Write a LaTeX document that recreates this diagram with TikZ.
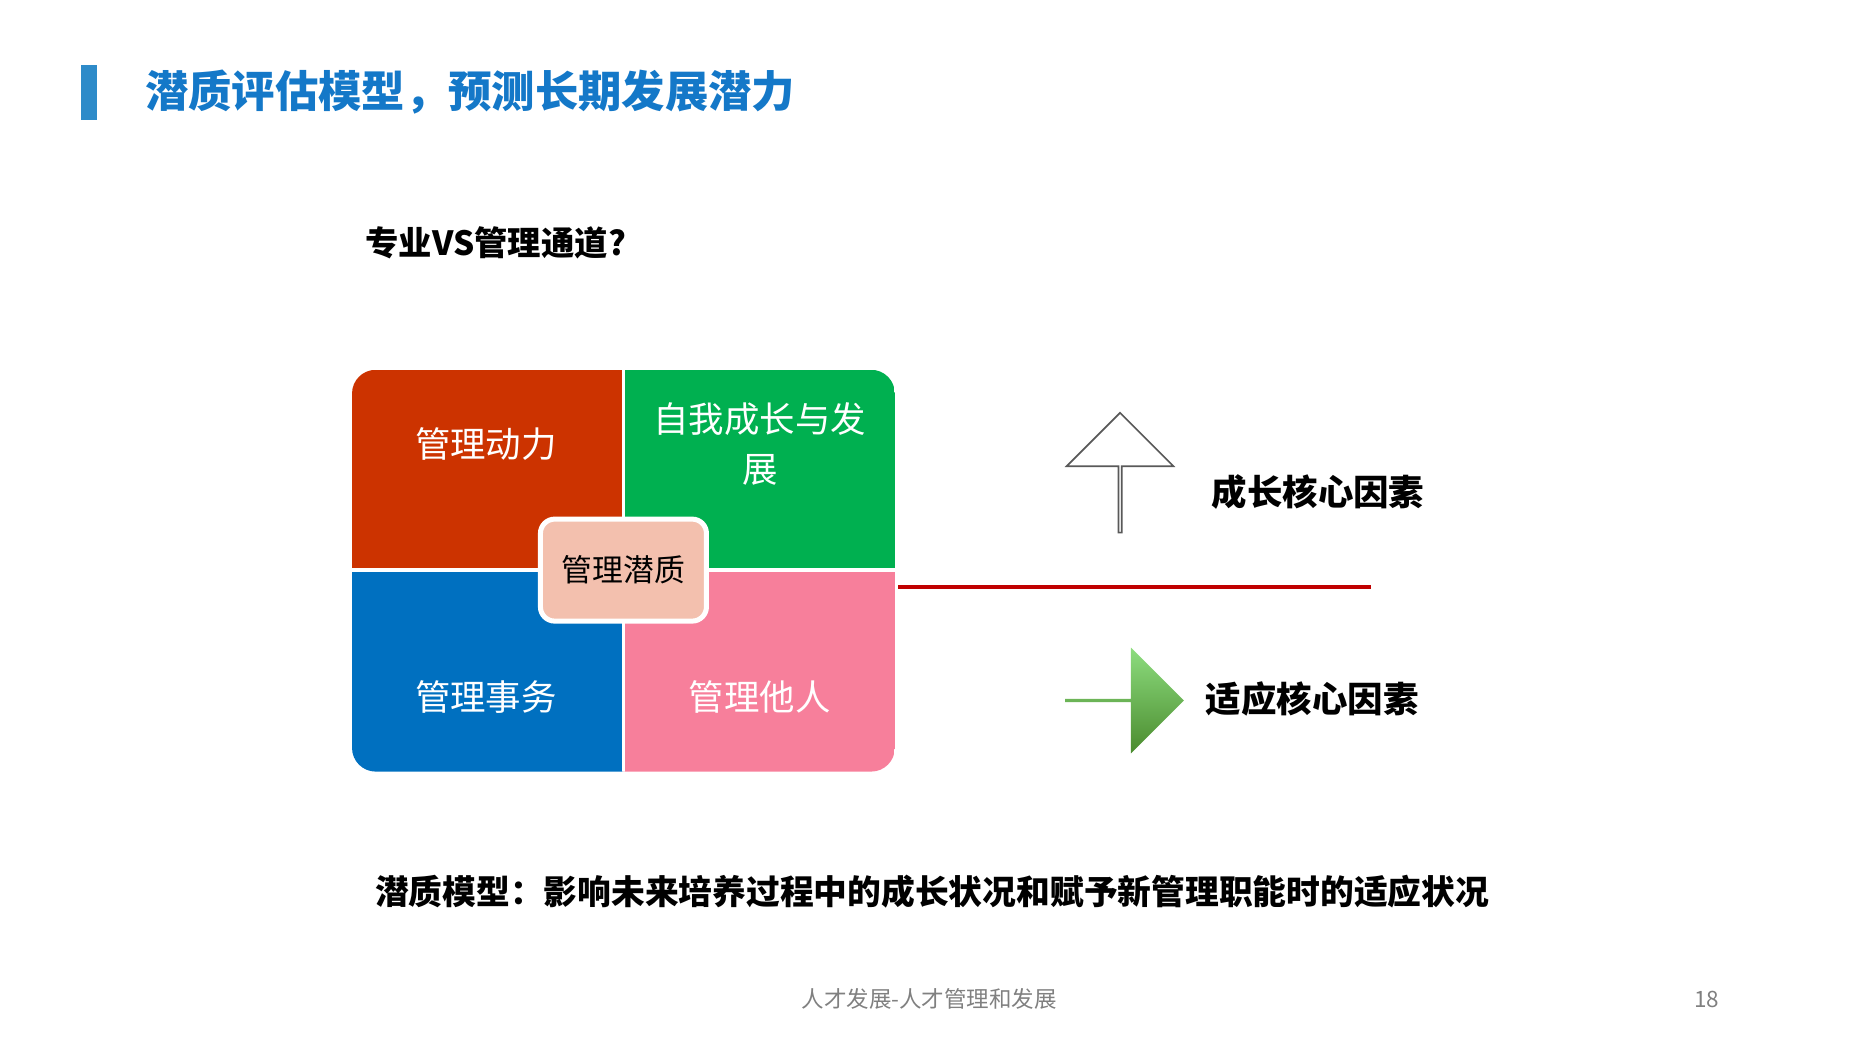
\documentclass[tikz,border=0pt]{standalone}
\usepackage{fontspec}
\setmainfont{Noto Sans CJK SC}
\usetikzlibrary{positioning,shapes.arrows}
\definecolor{titleblue}{HTML}{1478C8}
\definecolor{barblue}{HTML}{2E8BC9}
\definecolor{qred}{HTML}{CC3300}
\definecolor{qgreen}{HTML}{00B050}
\definecolor{qblue}{HTML}{0070C0}
\definecolor{qpink}{HTML}{F77F9B}
\definecolor{core}{HTML}{F3C0AE}
\definecolor{linered}{HTML}{C00000}
\definecolor{agreen}{HTML}{5DAE3A}
\begin{document}
\begin{tikzpicture}[x=0.01cm,y=-0.01cm,
 quad text/.style={text=white,font=\fontsize{8.5pt}{12pt}\selectfont,align=center},
 factor/.style={font=\bfseries\fontsize{8.5pt}{10pt}\selectfont,anchor=west}]
 \useasboundingbox (0,0) rectangle (1560,876);
 \fill[barblue] (68,55) rectangle (82,101);
 \node[anchor=west,text=titleblue,font=\bfseries\fontsize{10.4pt}{12pt}\selectfont] (title) at (110,78) {潜质评估模型，预测长期发展潜力};
 \node[anchor=west,font=\bfseries\fontsize{8pt}{10pt}\selectfont] (sub) at (296,205) {专业VS管理通道?};
 % matrix
 \begin{scope}
 \clip[rounded corners=0.2cm] (297,312) rectangle (755,651);
 \fill[qred] (297,312) rectangle (526,481);
 \fill[qgreen] (526,312) rectangle (755,481);
 \fill[qblue] (297,481) rectangle (526,651);
 \fill[qpink] (526,481) rectangle (755,651);
 \draw[white,line width=0.8pt] (526,312) -- (526,651) (297,481) -- (755,481);
 \end{scope}
 \node[quad text] (drive) at (410,375) {管理动力};
 \node[quad text] (grow) at (641,375) {自我成长与发\\展};
 \node[quad text] (affairs) at (410,588) {管理事务};
 \node[quad text] (others) at (641,588) {管理他人};
 \node[fill=core,draw=white,line width=1.2pt,rounded corners=0.12cm,minimum width=1.4cm,minimum height=0.86cm,font=\fontsize{7.4pt}{9pt}\selectfont] (core) at (526,481) {管理潜质};
 % right side
 \coordinate (lineA) at (758,495);
 \coordinate (lineB) at (1157,495);
 \draw[linered,line width=0.9pt] (lineA) -- (lineB);
 \node[single arrow,draw=gray!70!black,fill=white,shape border rotate=90,minimum height=1.01cm,minimum width=0.9cm,single arrow head extend=0.225cm,inner sep=0pt] (up) at (945,399.5) {};
 \node[factor] (growth) at (1010,415) {成长核心因素};
 \node[single arrow,top color=agreen!70!green!60!white,bottom color=agreen!80!black,draw=none,minimum height=1.0cm,minimum width=0.89cm,single arrow head extend=0.215cm,inner sep=0pt] (right) at (948,591) {};
 \node[factor] (adapt) at (1005,590) {适应核心因素};
 \node[anchor=west,font=\bfseries\fontsize{8.1pt}{10pt}\selectfont] (model) at (304,752) {潜质模型：影响未来培养过程中的成长状况和赋予新管理职能时的适应状况};
 \node[text=gray,font=\fontsize{5.4pt}{7pt}\selectfont] (foot) at (784,843) {人才发展-人才管理和发展};
 \node[text=gray,font=\fontsize{5.4pt}{7pt}\selectfont] (page) at (1440,843) {18};
\end{tikzpicture}
\end{document}
